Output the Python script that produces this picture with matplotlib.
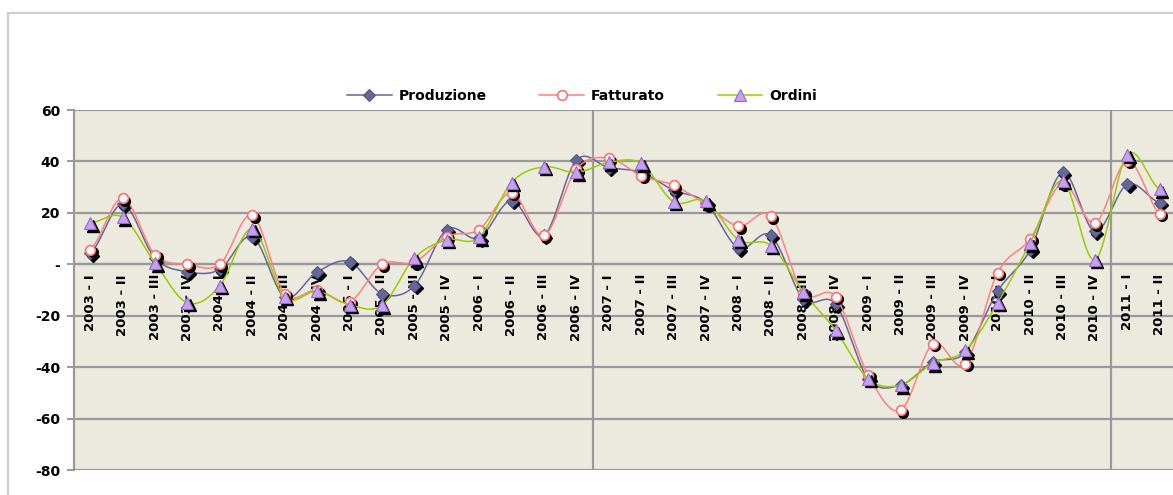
import numpy as np
import matplotlib
matplotlib.use("Agg")
import matplotlib.pyplot as plt
from matplotlib.patches import Rectangle
from matplotlib.lines import Line2D
import matplotlib.transforms as mtransforms

# Quarterly categories
quarters = ["I", "II", "III", "IV"]
categories = [f"{y} - {q}" for y in range(2003, 2011) for q in quarters] + ["2011 - I", "2011 - II"]

produzione = [4.3, 23.3, 2.4, -2.9, -2.0, 10.8, -12.7, -3.0, 1.0, -11.4, -8.4, 13.5,
              10.2, 24.8, 11.2, 40.5, 37.6, 35.7, 28.8, 23.9, 6.3, 11.2, -13.5, -15.5,
              -44.5, -47.0, -38.0, -34.2, -10.4, 5.6, 35.7, 12.8, 31.1, 23.9]
fatturato = [5.6, 25.6, 3.7, 0.0, 0.0, 19.0, -11.4, -10.0, -14.6, 0.0, 0.8, 10.8,
             13.5, 27.8, 11.2, 37.0, 41.3, 34.4, 30.7, 23.3, 14.8, 18.7, -11.0, -12.7,
             -43.0, -56.8, -30.9, -38.7, -3.2, 9.9, 31.4, 16.0, 40.3, 19.6]
ordini = [16.0, 18.3, 0.5, -15.0, -8.4, 13.8, -12.7, -10.5, -15.7, -16.0, 2.4, 9.5,
          10.5, 31.8, 37.9, 35.7, 39.6, 39.2, 24.3, 24.6, 9.5, 7.3, -10.8, -25.7,
          -44.5, -47.0, -38.4, -33.5, -15.0, 8.2, 32.4, 1.7, 42.6, 29.2]

y_ticks = [60, 40, 20, 0, -20, -40, -60, -80]
y_ticklabels = ["60", "40", "20", "-", "-20", "-40", "-60", "-80"]


def smooth_curve(x, y, n=24):
    """Catmull-Rom style smoothed path through the points (spreadsheet-like smoothing)."""
    x = np.asarray(x, float)
    y = np.asarray(y, float)
    xs, ys = [], []
    m = len(y)
    t = np.linspace(0, 1, n, endpoint=False)
    for i in range(m - 1):
        p0 = y[i - 1] if i > 0 else y[i]
        p1, p2 = y[i], y[i + 1]
        p3 = y[i + 2] if i + 2 < m else y[i + 1]
        seg = 0.5 * (2 * p1 + (-p0 + p2) * t + (2 * p0 - 5 * p1 + 4 * p2 - p3) * t ** 2
                     + (-p0 + 3 * p1 - 3 * p2 + p3) * t ** 3)
        xs.append(x[i] + (x[i + 1] - x[i]) * t)
        ys.append(seg)
    xs.append([x[-1]])
    ys.append([y[-1]])
    return np.concatenate(xs), np.concatenate(ys)


W, H = 1173, 495
fig = plt.figure(figsize=(W / 100, H / 100), dpi=100)
fig.patch.set_facecolor("white")

# outer chart frame
fig.add_artist(Rectangle((8 / W, -0.1), 1.2, (1 - 13 / H) + 0.1, transform=fig.transFigure,
                         fill=False, ec="#cfcfcf", lw=1.6, zorder=0))

ax = fig.add_axes([74 / W, 1 - 470 / H, 1102 / W, 360 / H])
ax.set_facecolor("#ECE9DF")

x = np.arange(len(categories))
grid_col = "#999999"

for v in y_ticks:
    ax.axhline(v, color=grid_col, lw=1.6, zorder=1)
for b in (15.5, 31.5):
    ax.axvline(b, color=grid_col, lw=1.6, zorder=1)

series = [
    ("Produzione", produzione, "#666699", dict(marker="D", ms=6.5, mfc="#666699", mec="#555588", mew=0.8)),
    ("Fatturato", fatturato, "#FF8080", dict(marker="o", ms=7, mfc="white", mec="#FF7070", mew=1.2)),
    ("Ordini", ordini, "#99CC00", dict(marker="^", ms=8, mfc="#C3A3F0", mec="#9966CC", mew=0.8)),
]

shadow = mtransforms.offset_copy(ax.transData, fig=fig, x=2.5, y=-2.5, units="dots")
handles = []
for k, (name, vals, col, mk) in enumerate(series):
    sx, sy = smooth_curve(x, vals)
    ax.plot(sx, sy, color=col, lw=1.1, zorder=3 + 3 * k)
    ax.plot(x, vals, ls="none", marker=mk["marker"], ms=mk["ms"], mfc="black", mec="black",
            transform=shadow, zorder=4 + 3 * k)
    ax.plot(x, vals, ls="none", zorder=5 + 3 * k, **mk)
    handles.append(Line2D([], [], color=col, lw=1.1, **mk))

ax.set_xlim(-0.5, len(categories) - 0.5)
ax.set_ylim(-80, 60)
ax.set_yticks(y_ticks)
ax.set_yticklabels(y_ticklabels, fontweight="bold", fontsize=10)
ax.tick_params(axis="y", length=5, color=grid_col, width=1.4, pad=5)

ax.spines["bottom"].set_position(("data", 0))
ax.spines["bottom"].set_color(grid_col)
ax.spines["bottom"].set_linewidth(1.6)
ax.set_xticks(x)
ax.set_xticklabels(categories, rotation=90, fontweight="bold", fontsize=9.5)
ax.tick_params(axis="x", length=0, pad=7)
for lab in ax.get_xticklabels():
    lab.set_zorder(2)

ax.spines["left"].set_color(grid_col)
ax.spines["left"].set_linewidth(1.6)
ax.spines["top"].set_visible(False)
ax.spines["right"].set_visible(False)

fig.legend(handles, [s[0] for s in series], loc="center", bbox_to_anchor=(582 / W, 1 - 96 / H),
           ncol=3, frameon=False, handlelength=3.2, handletextpad=0.5, columnspacing=3.8,
           prop=dict(weight="bold", size=10))

fig.savefig("out.png", dpi=100)
